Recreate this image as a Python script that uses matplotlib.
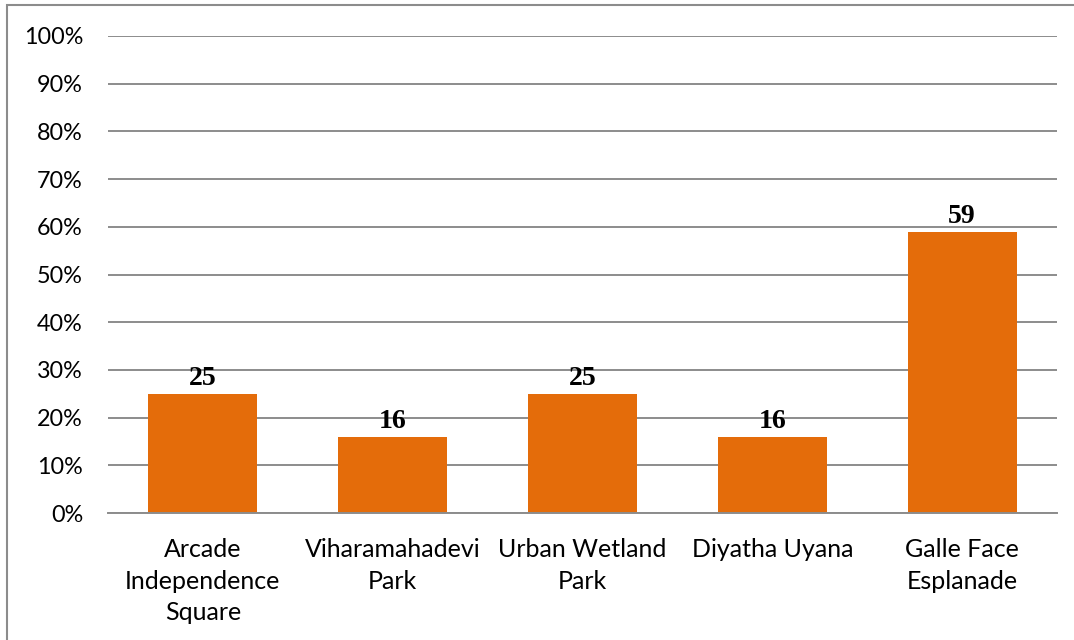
import matplotlib.pyplot as plt
import matplotlib.patches as mpatches
from matplotlib.ticker import PercentFormatter

# park names and share of visitors (%)
parks = [
    "Arcade\nIndependence\nSquare",
    "Viharamahadevi\nPark",
    "Urban Wetland\nPark",
    "Diyatha Uyana",
    "Galle Face\nEsplanade",
]
share = [25, 16, 25, 16, 59]
y_ticks = [0, 10, 20, 30, 40, 50, 60, 70, 80, 90, 100]

W, H = 1074, 640
fig = plt.figure(figsize=(W / 100, H / 100), dpi=100)
ax = fig.add_axes([108 / W, 1 - 513 / H, (1057 - 108) / W, (513 - 36) / H])

x = range(len(parks))
ax.bar(x, share, width=0.575, color="#E46C0A", zorder=2)

serif = ["Liberation Serif", "Times New Roman", "DejaVu Serif"]
for xi, v in zip(x, share):
    ax.text(xi, v + 0.5, f"{v}", ha="center", va="bottom",
            family=serif, fontweight="bold", fontsize=20, zorder=3)

ax.set_xlim(-0.5, len(parks) - 0.5)
ax.set_ylim(0, 100)
ax.set_yticks(y_ticks)
ax.yaxis.set_major_formatter(PercentFormatter(decimals=0))
ax.set_xticks(list(x))
ax.set_xticklabels(parks, family="Lato", fontsize=18, linespacing=1.45)
for lbl in ax.get_yticklabels():
    lbl.set_family("Lato")
    lbl.set_fontsize(16.8)

ax.grid(axis="y", color="#8C8C8C", linewidth=1.4, zorder=1)
ax.tick_params(length=0)
ax.tick_params(axis="x", pad=18)
ax.tick_params(axis="y", pad=18)
for side in ["top", "right", "left"]:
    ax.spines[side].set_visible(False)
ax.spines["bottom"].set_color("#8C8C8C")
ax.spines["bottom"].set_linewidth(1.4)

# outer chart frame, runs off the right and bottom edges
fig.patches.append(mpatches.Rectangle(
    (7 / W, -0.05), 1.05, 1 - 5 / H + 0.05, transform=fig.transFigure,
    fill=False, edgecolor="#8C8C8C", linewidth=1.5, clip_on=False))

fig.savefig("out.png", dpi=100)
